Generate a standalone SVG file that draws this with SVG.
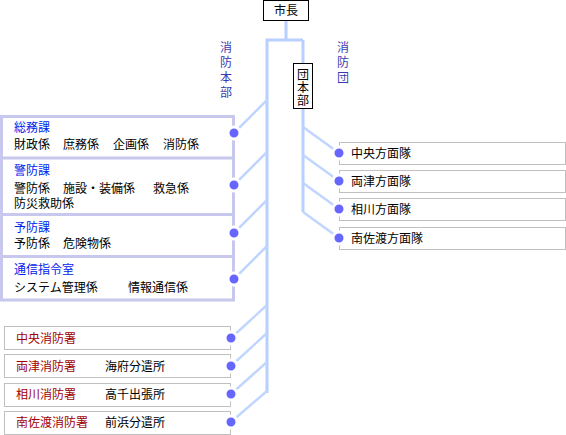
<svg xmlns="http://www.w3.org/2000/svg" width="566" height="435" viewBox="0 0 566 435">
<style>
text{font-family:"Noto Sans CJK JP","Noto Sans CJK SC",sans-serif;font-size:12px;fill:#000}
.blue{fill:#0022ee}
.red{fill:#a00000}
.lbl{fill:#3a3ab0;text-anchor:middle}
.ctr{text-anchor:middle}
.trunk{stroke:#b8d0ff;stroke-width:3;fill:none}
.diag{stroke:#c0d6ff;stroke-width:2.5;fill:none}
.lav{stroke:#c8c8ee;stroke-width:3;fill:none}
.gray{stroke:#c0c0c0;stroke-width:1;fill:#fff}
.box{stroke:#000;stroke-width:1;fill:#fff}
.dot{fill:#6666ff;stroke:#fff;stroke-width:3}
</style>
<g id="connectors">
<path class="trunk" d="M286,21V40M267,40H303M267,38.5V393M303,40V212"/>
<path class="diag" d="M234,133L267,100M234,185L267,152M234,233L267,200M234,279L267,246"/>
<path class="diag" d="M231,338L267,305M231,366L267,333M231,394L267,362M231,422L267,391"/>
<path class="diag" d="M303,127L339,153M303,155L339,181M303,183L339,209M303,212L339,238"/>
</g>
<g id="mayor"><rect class="box" x="263.5" y="0.5" width="45" height="20"/><text class="ctr" x="286" y="15">市長</text></g>
<g id="label-honbu"><text class="lbl" x="226" y="52">消</text><text class="lbl" x="226" y="67">防</text><text class="lbl" x="226" y="82">本</text><text class="lbl" x="226" y="97">部</text></g>
<g id="label-dan"><text class="lbl" x="343" y="52">消</text><text class="lbl" x="343" y="67">防</text><text class="lbl" x="343" y="82">団</text></g>
<g id="danhonbu"><rect class="box" x="293.5" y="63.5" width="19" height="45"/><text class="ctr" x="303" y="79">団</text><text class="ctr" x="303" y="92">本</text><text class="ctr" x="303" y="105">部</text></g>
<g id="honbu-frame"><path class="lav" d="M1.5,116.5H233.5V300H1.5ZM1.5,158H233.5M1.5,214.5H233.5M1.5,256.5H233.5"/></g>
<g id="somu"><text class="blue" x="14" y="132">総務課</text><text x="14" y="149">財政係</text><text x="63" y="149">庶務係</text><text x="113" y="149">企画係</text><text x="163" y="149">消防係</text><circle class="dot" cx="234" cy="133" r="6"/></g>
<g id="keibo"><text class="blue" x="14" y="175">警防課</text><text x="14" y="193">警防係</text><text x="63" y="193">施設・装備係</text><text x="153" y="193">救急係</text><text x="14" y="208">防災救助係</text><circle class="dot" cx="234" cy="185" r="6"/></g>
<g id="yobo"><text class="blue" x="14" y="232">予防課</text><text x="14" y="248">予防係</text><text x="63" y="248">危険物係</text><circle class="dot" cx="234" cy="233" r="6"/></g>
<g id="tsushin"><text class="blue" x="14" y="274">通信指令室</text><text x="14" y="292">システム管理係</text><text x="128" y="292">情報通信係</text><circle class="dot" cx="234" cy="279" r="6"/></g>
<g id="chuo-sho"><rect class="gray" x="4.5" y="326.5" width="226" height="23"/><text class="red" x="16" y="343">中央消防署</text><circle class="dot" cx="231" cy="338" r="6"/></g>
<g id="ryotsu-sho"><rect class="gray" x="4.5" y="354.5" width="226" height="23"/><text class="red" x="16" y="371">両津消防署</text><text x="105" y="371">海府分遣所</text><circle class="dot" cx="231" cy="366" r="6"/></g>
<g id="aikawa-sho"><rect class="gray" x="4.5" y="383.5" width="226" height="23"/><text class="red" x="16" y="399">相川消防署</text><text x="105" y="399">高千出張所</text><circle class="dot" cx="231" cy="394" r="6"/></g>
<g id="minamisado-sho"><rect class="gray" x="4.5" y="411.5" width="226" height="23"/><text class="red" x="16" y="427">南佐渡消防署</text><text x="105" y="427">前浜分遣所</text><circle class="dot" cx="231" cy="422" r="6"/></g>
<g id="chuo-tai"><rect class="gray" x="339.5" y="142.5" width="226" height="22"/><text x="351" y="158">中央方面隊</text><circle class="dot" cx="339" cy="153" r="6"/></g>
<g id="ryotsu-tai"><rect class="gray" x="339.5" y="170.5" width="226" height="22"/><text x="351" y="186">両津方面隊</text><circle class="dot" cx="339" cy="181" r="6"/></g>
<g id="aikawa-tai"><rect class="gray" x="339.5" y="198.5" width="226" height="22"/><text x="351" y="214">相川方面隊</text><circle class="dot" cx="339" cy="209" r="6"/></g>
<g id="minamisado-tai"><rect class="gray" x="339.5" y="227.5" width="226" height="22"/><text x="351" y="243">南佐渡方面隊</text><circle class="dot" cx="339" cy="238" r="6"/></g>
</svg>
